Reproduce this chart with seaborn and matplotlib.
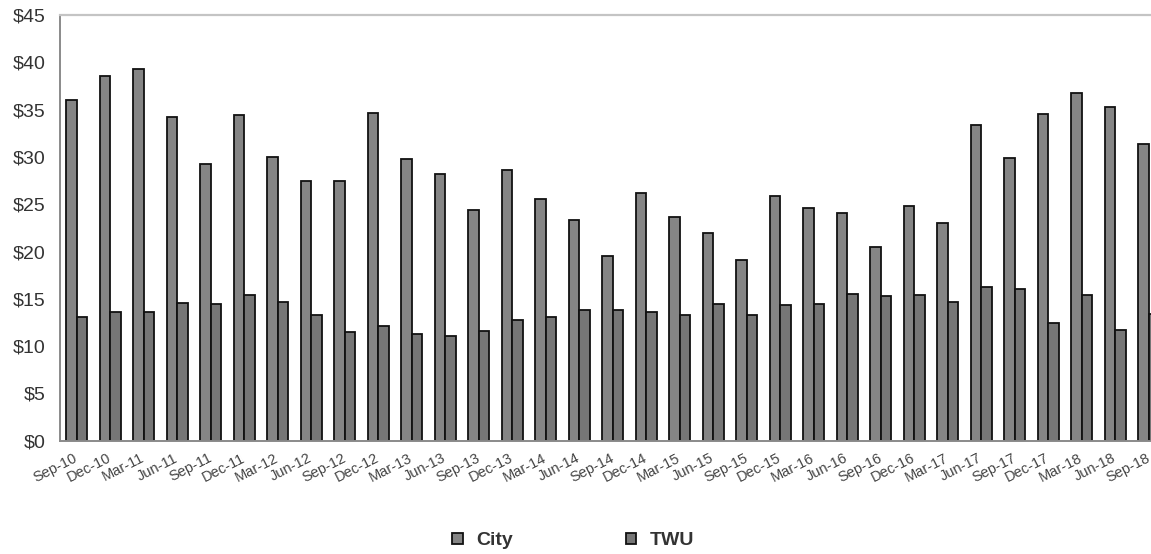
import matplotlib
matplotlib.use("Agg")
import matplotlib.pyplot as plt
import matplotlib.transforms as mtransforms
import seaborn as sns
import pandas as pd
from matplotlib.patches import Patch

quarters = ["Sep-10", "Dec-10", "Mar-11", "Jun-11", "Sep-11", "Dec-11", "Mar-12",
            "Jun-12", "Sep-12", "Dec-12", "Mar-13", "Jun-13", "Sep-13", "Dec-13",
            "Mar-14", "Jun-14", "Sep-14", "Dec-14", "Mar-15", "Jun-15", "Sep-15",
            "Dec-15", "Mar-16", "Jun-16", "Sep-16", "Dec-16", "Mar-17", "Jun-17",
            "Sep-17", "Dec-17", "Mar-18", "Jun-18", "Sep-18"]

city = [36.0, 38.6, 39.3, 34.2, 29.3, 34.4, 30.0, 27.5, 27.4, 34.6, 29.8,
        28.2, 24.4, 28.6, 25.5, 23.3, 19.5, 26.2, 23.6, 22.0, 19.1, 25.9,
        24.6, 24.1, 20.5, 24.8, 23.0, 33.4, 29.9, 34.5, 36.8, 35.3, 31.4]

twu = [13.1, 13.6, 13.6, 14.6, 14.5, 15.4, 14.7, 13.3, 11.5, 12.1, 11.3,
       11.1, 11.6, 12.8, 13.1, 13.8, 13.8, 13.6, 13.3, 14.4, 13.3, 14.3,
       14.5, 15.5, 15.3, 15.4, 14.7, 16.2, 16.0, 12.4, 15.4, 11.7, 13.4]

series_names = ["City", "TWU"]
series_colors = {"City": "#858585", "TWU": "#767676"}

df = pd.DataFrame({
    "Quarter": quarters * 2,
    "Value": city + twu,
    "Series": ["City"] * len(quarters) + ["TWU"] * len(quarters),
})

sns.set_theme(style="white")
plt.rcParams["font.family"] = ["Liberation Sans", "DejaVu Sans"]

fig = plt.figure(figsize=(11.51, 5.54), dpi=100)
# plot area runs a little past the right edge of the page
ax = fig.add_axes([60 / 1151, (554 - 440.7) / 554, 1105.5 / 1151, (440.7 - 15) / 554])

sns.barplot(data=df, x="Quarter", y="Value", hue="Series", order=quarters,
            hue_order=series_names, palette=series_colors, width=0.63, gap=0,
            edgecolor="#111111", linewidth=1.3, saturation=1, legend=False, ax=ax)

ax.set_xlim(-0.5, len(quarters) - 0.5)
ax.set_ylim(0, 45)
ax.set_yticks(range(0, 50, 5))
ax.set_yticklabels([f"${v}" for v in range(0, 50, 5)], fontsize=14, color="#333333")
ax.set_xticks(range(len(quarters)))
ax.set_xticklabels(quarters, rotation=27, ha="right", va="center",
                   rotation_mode="anchor", fontsize=10.5, color="#444444")
shift = mtransforms.ScaledTranslation(4 / 100, 0, fig.dpi_scale_trans)
for lab in ax.get_xticklabels():
    lab.set_transform(lab.get_transform() + shift)
ax.tick_params(axis="x", length=0, pad=12)
ax.tick_params(axis="y", length=0, pad=10.5)
ax.set_xlabel("")
ax.set_ylabel("")

for side in ["left", "bottom"]:
    ax.spines[side].set_color("#8a8a8a")
    ax.spines[side].set_linewidth(1.4)
ax.spines["top"].set_color("#c4c4c4")
ax.spines["top"].set_linewidth(1.6)
ax.spines["right"].set_visible(False)

handles = [Patch(facecolor=series_colors[s], edgecolor="#111111", linewidth=1.3)
           for s in series_names]
fig.legend(handles, series_names, loc="center", bbox_to_anchor=(0.498, 0.0235),
           ncol=2, frameon=False, handlelength=0.55, handleheight=0.55,
           handletextpad=0.7, columnspacing=5.8,
           prop={"weight": "bold", "size": 14})
for t in fig.legends[0].get_texts():
    t.set_color("#333333")

fig.savefig("out.png", dpi=100)
